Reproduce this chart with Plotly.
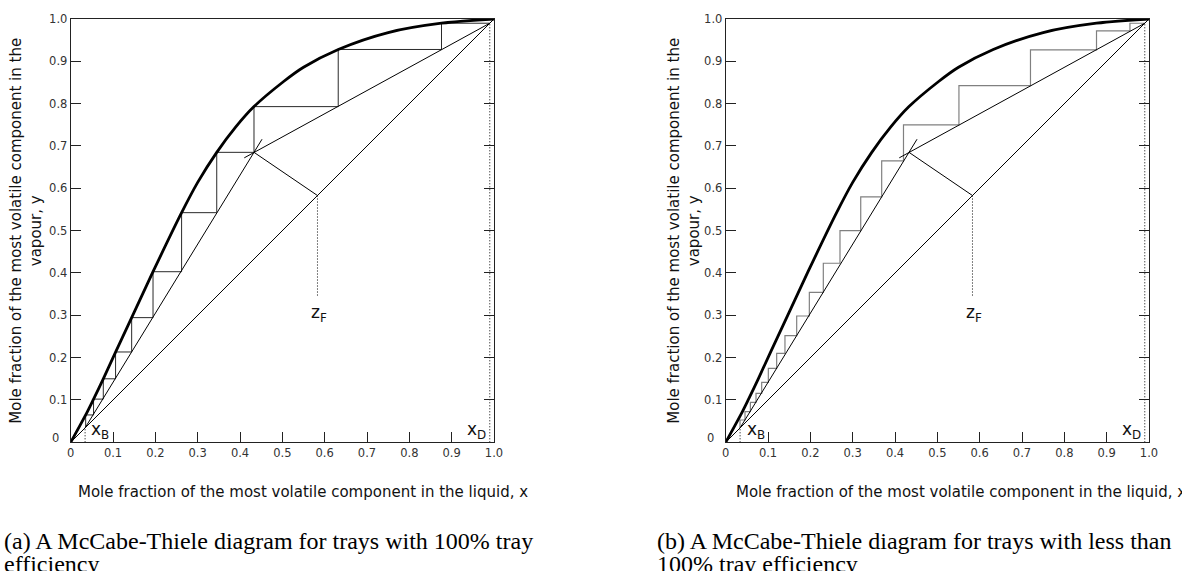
import plotly.graph_objects as go

# ---------------- data ----------------
# equilibrium curve
eq_x = [0, 0.0354, 0.054, 0.077, 0.106, 0.144, 0.1945, 0.262, 0.30, 0.345, 0.39, 0.433,
        0.50, 0.55, 0.632, 0.75, 0.876, 1.0]
eq_y = [0, 0.0646, 0.102, 0.150, 0.213, 0.2945, 0.403, 0.5425, 0.614, 0.685, 0.745, 0.793,
        0.850, 0.886, 0.928, 0.968, 0.990, 1.0]

# key compositions
x_D = 0.99
x_B = 0.034
z_F = 0.583

# operating lines (end points)
rect_x = [0.41, 0.99]
rect_y = [0.672, 0.99]
strip_x = [0.034, 0.452]
strip_y = [0.034, 0.716]
qline_x = [0.433, 0.583]
qline_y = [0.685, 0.583]
zf_drop_y = [0.583, 0.345]

# (a) staircase, 100 % tray efficiency
steps_a_x = [0.876, 0.632, 0.433, 0.345, 0.262, 0.1945, 0.144, 0.106, 0.077, 0.054, 0.0354]
steps_a_y = [0.99, 0.928, 0.793, 0.685, 0.5425, 0.403, 0.2945, 0.2134, 0.150, 0.102, 0.0646]
steps_a_end = 0.036

# (b) staircase, tray efficiency below 100 %
steps_b_x = [0.955, 0.876, 0.720, 0.551, 0.420, 0.3685, 0.319, 0.270, 0.2306, 0.1976,
             0.1677, 0.140, 0.1204, 0.1007, 0.085, 0.0716, 0.0583, 0.0456, 0.0338]
steps_b_y = [0.99, 0.972, 0.927, 0.8425, 0.750, 0.665, 0.580, 0.500, 0.423, 0.3544,
             0.2984, 0.2519, 0.2103, 0.1748, 0.1417, 0.1157, 0.0945, 0.0723, 0.0527]
steps_b_end = 0.034

tick_vals = [0, 0.1, 0.2, 0.3, 0.4, 0.5, 0.6, 0.7, 0.8, 0.9, 1.0]
x_tick_text = ["0", "0.1", "0.2", "0.3", "0.4", "0.5", "0.6", "0.7", "0.8", "0.9", "1.0"]
y_tick_vals = [0.1, 0.2, 0.3, 0.4, 0.5, 0.6, 0.7, 0.8, 0.9, 1.0]
y_tick_text = ["0.1", "0.2", "0.3", "0.4", "0.5", "0.6", "0.7", "0.8", "0.9", "1.0"]

x_title = "Mole fraction of the most volatile component in the liquid, x"
y_title = "Mole fraction of the most volatile component in the<br>vapour, y"
captions = [
    ["(a) A McCabe-Thiele diagram for trays with 100% tray", "efficiency"],
    ["(b) A McCabe-Thiele diagram for trays with less than", "100% tray efficiency"],
]

# ---------------- figure ----------------
W, H = 1182, 571
SANS = "DejaVu Sans"
SERIF = "Liberation Serif"
TICK_SIZE = 11.5


def stair_path(xs, ys, x_start, y_end):
    px, py = [x_start], [ys[0]]
    for i, xv in enumerate(xs):
        px.append(xv); py.append(ys[i])
        nxt = ys[i + 1] if i + 1 < len(ys) else y_end
        px.append(xv); py.append(nxt)
    return px, py


fig = go.Figure()

panels = [
    dict(xa="x", ya="y", steps=(steps_a_x, steps_a_y, steps_a_end), step_color="#2a2a2a", step_w=1.0),
    dict(xa="x2", ya="y2", steps=(steps_b_x, steps_b_y, steps_b_end), step_color="#808080", step_w=1.2),
]

thin = dict(color="black", width=1)
dots = dict(color="black", width=1, dash="1px,2px")

for p in panels:
    common = dict(xaxis=p["xa"], yaxis=p["ya"], mode="lines", hoverinfo="skip", showlegend=False)
    sx, sy = stair_path(p["steps"][0], p["steps"][1], x_D, p["steps"][2])
    fig.add_trace(go.Scatter(x=sx, y=sy, line=dict(color=p["step_color"], width=p["step_w"]), **common))
    fig.add_trace(go.Scatter(x=[0, 1], y=[0, 1], line=thin, **common))
    fig.add_trace(go.Scatter(x=rect_x, y=rect_y, line=thin, **common))
    fig.add_trace(go.Scatter(x=strip_x, y=strip_y, line=thin, **common))
    fig.add_trace(go.Scatter(x=qline_x, y=qline_y, line=thin, **common))
    fig.add_trace(go.Scatter(x=[z_F, z_F], y=zf_drop_y, line=dots, **common))
    fig.add_trace(go.Scatter(x=[x_D, x_D], y=[0, x_D], line=dots, **common))
    fig.add_trace(go.Scatter(x=[x_B, x_B], y=[0, x_B], line=dots, **common))
    fig.add_trace(go.Scatter(x=eq_x, y=eq_y, line=dict(color="black", width=2.8, shape="spline", smoothing=1.0), **common))

axis_common = dict(range=[0, 1], showgrid=False, zeroline=False, showline=True, automargin=False,
                   linecolor="#222", linewidth=1, ticks="inside", ticklen=10,
                   tickcolor="#222", tickwidth=1, fixedrange=True,
                   tickfont=dict(family=SANS, size=TICK_SIZE, color="#333"))

x_dom = [[70.7 / W, 494.0 / W], [725.7 / W, 1149.0 / W]]
y_dom = [(H - 442.3) / H, (H - 19.0) / H]

fig.update_layout(
    template="none",
    width=W, height=H,
    margin=dict(l=0, r=0, t=0, b=0, pad=0),
    paper_bgcolor="white", plot_bgcolor="white",
    font=dict(family=SANS, color="#111"),
    showlegend=False,
    xaxis=dict(domain=x_dom[0], anchor="y", mirror=True, tickvals=tick_vals, ticktext=x_tick_text, **axis_common),
    yaxis=dict(domain=y_dom, anchor="x", mirror="ticks", tickvals=y_tick_vals, ticktext=y_tick_text, **axis_common),
    xaxis2=dict(domain=x_dom[1], anchor="y2", mirror=True, tickvals=tick_vals, ticktext=x_tick_text, **axis_common),
    yaxis2=dict(domain=y_dom, anchor="x2", mirror="ticks", tickvals=y_tick_vals, ticktext=y_tick_text, **axis_common),
)

ann = []
label_font = dict(family=SANS, size=17, color="#111")
for i, (xa, ya) in enumerate([("x", "y"), ("x2", "y2")]):
    ann.append(dict(xref=xa, yref=ya, x=0.070 + 0.002 * i, y=0.027, text="x<sub>B</sub>",
                    showarrow=False, font=label_font, xanchor="center", yanchor="middle"))
    ann.append(dict(xref=xa, yref=ya, x=0.958, y=0.027, text="x<sub>D</sub>",
                    showarrow=False, font=label_font, xanchor="center", yanchor="middle"))
    ann.append(dict(xref=xa, yref=ya, x=0.586, y=0.305, text="z<sub>F</sub>",
                    showarrow=False, font=label_font, xanchor="center", yanchor="middle"))

# axis titles
for cx in [303.0, 961.0]:
    ann.append(dict(xref="paper", yref="paper", x=cx / W, y=(H - 491.7) / H, text=x_title,
                    showarrow=False, xanchor="center", yanchor="middle",
                    font=dict(family=SANS, size=15, color="#111")))
for cx in [26.0, 684.0]:
    ann.append(dict(xref="paper", yref="paper", x=cx / W, y=(H - 230.7) / H, text=y_title,
                    textangle=-90, showarrow=False, xanchor="center", yanchor="middle",
                    font=dict(family=SANS, size=15, color="#111")))
# lone "0" labels of the y axes
for cx in [55.0, 710.0]:
    ann.append(dict(xref="paper", yref="paper", x=cx / W, y=(H - 438.0) / H, text="0",
                    showarrow=False, xanchor="center", yanchor="middle",
                    font=dict(family=SANS, size=TICK_SIZE, color="#333")))
# captions
for cx, lines in zip([1.5, 655.0], captions):
    for j, line in enumerate(lines):
        ann.append(dict(xref="paper", yref="paper", x=cx / W, y=(H - (541.0 + 23.0 * j)) / H,
                        text=line, showarrow=False, xanchor="left", yanchor="middle",
                        font=dict(family=SERIF, size=24, color="black")))

fig.update_layout(annotations=ann)
fig.write_html("out.html")
